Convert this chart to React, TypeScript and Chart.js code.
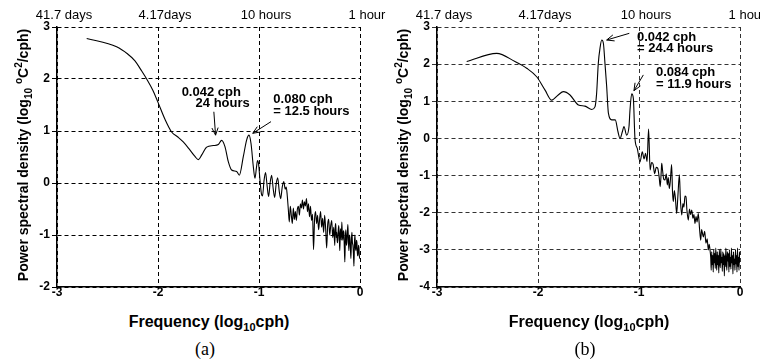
import React, { useEffect, useRef } from "react";
import { Chart, registerables } from "chart.js";
Chart.register(...registerables);

const FONT = '"Liberation Sans", Arial, sans-serif';

const xTickValues = [-3, -2, -1, 0];
const topTickLabels = ["41.7 days", "4.17days", "10 hours", "1 hour"];

// Panel (a)
const freqA = [
  -2.706, -2.41, -2.3, -2.228, -2.17, -2.112, -2.05, -2.0, -1.93, -1.865, -1.8, -1.75, -1.69, -1.634, -1.6,
  -1.567, -1.518, -1.452, -1.403, -1.37, -1.337, -1.304, -1.271, -1.221, -1.195, -1.155, -1.122, -1.099,
  -1.079, -1.056, -1.04, -1.025, -1.015, -1.005, -0.99, -0.975, -0.965, -0.95, -0.935, -0.92, -0.905, -0.89,
  -0.875, -0.86, -0.845, -0.83, -0.815, -0.8, -0.785, -0.77, -0.755, -0.74, -0.73, -0.72, -0.71, -0.7, -0.69,
  -0.68, -0.67, -0.66, -0.65, -0.64, -0.63, -0.62, -0.61, -0.6, -0.59, -0.58, -0.57, -0.56, -0.55, -0.54,
  -0.53, -0.52, -0.51, -0.5, -0.49, -0.48, -0.47, -0.46, -0.45, -0.44, -0.43, -0.42, -0.41, -0.4, -0.39,
  -0.38, -0.37, -0.36, -0.35, -0.34, -0.33, -0.32, -0.31, -0.3, -0.29, -0.28, -0.27, -0.26, -0.25, -0.245,
  -0.24, -0.235, -0.23, -0.225, -0.22, -0.215, -0.21, -0.205, -0.2, -0.195, -0.19, -0.185, -0.18, -0.175,
  -0.17, -0.165, -0.16, -0.155, -0.15, -0.145, -0.14, -0.135, -0.13, -0.125, -0.12, -0.115, -0.11, -0.105,
  -0.1, -0.095, -0.09, -0.085, -0.08, -0.075, -0.07, -0.065, -0.06, -0.055, -0.05, -0.045, -0.04, -0.035,
  -0.03, -0.025, -0.02, -0.015, -0.01, -0.005, 0,
];
const psdA = [
  2.78, 2.62, 2.48, 2.35, 2.18, 2.0, 1.78, 1.55, 1.22, 0.98, 0.88, 0.79, 0.65, 0.51, 0.45,
  0.54, 0.69, 0.72, 0.74, 0.82, 0.7, 0.41, 0.25, 0.22, 0.15, 0.51, 0.83, 0.92,
  0.76, 0.31, 0.09, 0.3, 0.43, 0.38, 0.05, -0.22, -0.25, 0.05, 0.2, -0.05, -0.26, 0.0,
  0.15, -0.1, -0.28, -0.02, 0.1, -0.15, -0.3, -0.08, 0.03, -0.12, -0.08, -0.25, -0.5, -0.75, -0.45,
  -0.62, -0.78, -0.48, -0.7, -0.55, -0.72, -0.5, -0.45, -0.62, -0.4, -0.48, -0.33, -0.5, -0.36, -0.44,
  -0.3, -0.55, -0.4, -0.65, -0.45, -0.72, -0.6, -1.28, -0.7, -0.55, -0.78, -0.62, -0.9, -0.7, -0.55,
  -0.85, -0.68, -0.95, -0.62, -0.88, -1.25, -0.8, -0.7, -1.0, -0.82, -0.72, -1.05, -0.85, -1.2, -0.85,
  -0.78, -1.05, -0.95, -1.15, -1.1, -0.9, -0.82, -1.05, -1.3, -0.95, -0.88, -1.1, -0.75, -1.0,
  -1.1, -0.92, -0.95, -1.25, -1.52, -1.05, -0.9, -1.2, -1.15, -0.95, -0.8, -1.1, -1.3, -1.0,
  -1.05, -1.25, -1.45, -1.1, -0.95, -1.15, -1.2, -1.35, -1.6, -1.15, -1.0, -1.25, -1.3, -1.1,
  -1.15, -1.4, -1.4, -1.2, -1.25, -1.45, -1.4,
];

// Panel (b)
const freqB = [
  -2.706, -2.409, -2.228, -2.112, -2.013, -1.93, -1.864, -1.8, -1.749, -1.683, -1.6, -1.535, -1.468, -1.436,
  -1.42, -1.403, -1.385, -1.369, -1.352, -1.337, -1.32, -1.303, -1.27, -1.235, -1.208, -1.188, -1.165,
  -1.149, -1.122, -1.099, -1.089, -1.072, -1.056, -1.04, -1.017, -0.99, -0.967, -0.95, -0.935, -0.92,
  -0.905, -0.89, -0.875, -0.86, -0.845, -0.83, -0.815, -0.8, -0.79, -0.78, -0.775, -0.767, -0.755, -0.743,
  -0.73, -0.72, -0.71, -0.7, -0.69, -0.677, -0.668, -0.66, -0.65, -0.64, -0.627, -0.615, -0.6, -0.59,
  -0.577, -0.565, -0.555, -0.545, -0.535, -0.525, -0.512, -0.5, -0.49, -0.478, -0.466, -0.456, -0.446,
  -0.435, -0.425, -0.413, -0.4, -0.389, -0.38, -0.37, -0.363, -0.35, -0.337, -0.325, -0.314, -0.305, -0.295,
  -0.29, -0.285, -0.28, -0.275, -0.27, -0.265, -0.26, -0.255, -0.25, -0.245, -0.24, -0.235, -0.23, -0.225,
  -0.22, -0.215, -0.21, -0.205, -0.2, -0.195, -0.19, -0.185, -0.18, -0.175, -0.17, -0.165, -0.16, -0.155,
  -0.15, -0.145, -0.14, -0.135, -0.13, -0.125, -0.12, -0.115, -0.11, -0.105, -0.1, -0.095, -0.09, -0.085,
  -0.08, -0.075, -0.07, -0.065, -0.06, -0.055, -0.05, -0.045, -0.04, -0.035, -0.03, -0.025, -0.02, -0.015,
  -0.01, -0.005, 0,
];
const psdB = [
  2.07, 2.29, 2.07, 1.89, 1.66, 1.3, 1.03, 1.17, 1.26, 1.17, 0.9, 0.87, 0.78, 0.85,
  1.2, 2.02, 2.45, 2.65, 2.55, 2.02, 1.4, 0.68, 0.5, 0.5, 0.18, 0.0, 0.18,
  0.32, 0.09, 0.32, 0.77, 1.2, 1.08, 0.0, -0.27, -0.63, -0.36, -0.55, -0.4, -0.62,
  0.25, -0.85, -0.65, -0.7, -0.95, -0.78, -0.8, -1.05, -1.3, -0.9, -0.67, -0.85, -1.1, -1.12,
  -0.95, -1.25, -1.05, -1.35, -1.15, -0.7, -1.45, -1.7, -1.4, -1.6, -2.02, -1.55, -0.98, -1.65,
  -2.06, -1.75, -1.85, -1.55, -1.57, -1.95, -2.2, -1.9, -2.05, -1.93, -2.15, -2.05, -2.29,
  -2.1, -2.25, -2.02, -2.45, -2.74, -2.45, -2.58, -2.65, -2.5, -2.82, -2.7, -3.0, -2.85, -3.05,
  -3.2, -3.55, -3.05, -3.4, -3.15, -3.6, -3.0, -3.35, -3.1, -3.5, -2.95, -3.3, -3.55, -3.05,
  -3.4, -3.15, -3.62, -3.0, -3.3, -3.48, -2.98, -3.35, -3.2, -3.58, -3.05, -3.4, -3.1, -3.7,
  -3.15, -3.45, -2.95, -3.35, -3.55, -3.05, -3.3, -3.1, -3.6, -3.0, -3.45, -3.2, -3.52, -2.95,
  -3.35, -3.15, -3.65, -3.05, -3.4, -3.25, -3.55, -3.0, -3.38, -3.15, -3.6, -2.95, -3.45, -3.2,
  -3.55, -3.05, -3.35,
];

// Annotations (data coordinates)
const notesA = [
  { x: -1.766, y: 1.74, text: "0.042 cph" },
  { x: -1.628, y: 1.53, text: "24 hours" },
  { x: -0.858, y: 1.6, text: "0.080 cph" },
  { x: -0.858, y: 1.385, text: "= 12.5 hours" },
];
const arrowsA = [
  { x1: -1.447, y1: 1.37, x2: -1.43, y2: 0.92 },
  { x1: -0.881, y1: 1.18, x2: -1.062, y2: 0.956 },
];
const notesB = [
  { x: -1.02, y: 2.73, text: "0.042 cph" },
  { x: -1.02, y: 2.41, text: "= 24.4 hours" },
  { x: -0.832, y: 1.775, text: "0.084 cph" },
  { x: -0.832, y: 1.465, text: "= 11.9 hours" },
];
const arrowsB = [
  { x1: -1.096, y1: 2.83, x2: -1.32, y2: 2.65 },
  { x1: -0.957, y1: 1.71, x2: -1.05, y2: 1.285 },
];

type Note = { x: number; y: number; text: string };
type Arrow = { x1: number; y1: number; x2: number; y2: number };

function makeAnnotPlugin(notes: Note[], arrows: Arrow[]) {
  return {
    id: "annot",
    afterDatasetsDraw(chart: any) {
      const ctx = chart.ctx;
      const xs = chart.scales.x;
      const ys = chart.scales.y;
      ctx.save();
      ctx.fillStyle = "#000";
      ctx.font = `bold 13px ${FONT}`;
      ctx.textAlign = "left";
      ctx.textBaseline = "middle";
      for (const n of notes) {
        ctx.fillText(n.text, xs.getPixelForValue(n.x), ys.getPixelForValue(n.y));
      }
      ctx.strokeStyle = "#000";
      ctx.lineWidth = 1;
      for (const a of arrows) {
        const x1 = xs.getPixelForValue(a.x1);
        const y1 = ys.getPixelForValue(a.y1);
        const x2 = xs.getPixelForValue(a.x2);
        const y2 = ys.getPixelForValue(a.y2);
        const ang = Math.atan2(y2 - y1, x2 - x1);
        const hl = 8;
        const spread = 0.4;
        ctx.beginPath();
        ctx.moveTo(x1, y1);
        ctx.lineTo(x2, y2);
        ctx.moveTo(x2 - hl * Math.cos(ang - spread), y2 - hl * Math.sin(ang - spread));
        ctx.lineTo(x2, y2);
        ctx.lineTo(x2 - hl * Math.cos(ang + spread), y2 - hl * Math.sin(ang + spread));
        ctx.stroke();
      }
      ctx.restore();
    },
  };
}

function Panel(props: {
  left: number;
  width: number;
  padRight: number;
  freq: number[];
  psd: number[];
  yMin: number;
  yMax: number;
  notes: Note[];
  arrows: Arrow[];
  gridColor: string;
}) {
  const ref = useRef<HTMLCanvasElement | null>(null);
  useEffect(() => {
    if (!ref.current) return;
    const data = props.freq.map((f, i) => ({ x: f, y: props.psd[i] }));
    const setTicks = (s: any) => {
      s.ticks = xTickValues.map((v) => ({ value: v }));
    };
    const chart = new Chart(ref.current, {
      type: "scatter",
      data: {
        datasets: [
          {
            data,
            showLine: true,
            borderColor: "#000",
            borderWidth: 1.1,
            pointRadius: 0,
            cubicInterpolationMode: "monotone",
            fill: false,
          } as any,
        ],
      },
      options: {
        animation: false,
        responsive: true,
        maintainAspectRatio: false,
        layout: { padding: { left: 0, right: props.padRight, top: 0, bottom: 0 } },
        plugins: { legend: { display: false }, tooltip: { enabled: false } },
        scales: {
          x: {
            type: "linear",
            position: "bottom",
            min: -3,
            max: 0,
            afterBuildTicks: setTicks,
            ticks: {
              font: { family: FONT, weight: "bold", size: 12 },
              color: "#000",
              padding: -2,
              maxRotation: 0,
              autoSkip: false,
            },
            grid: { color: props.gridColor, lineWidth: 1, drawTicks: false },
            border: { display: true, color: "#000", width: 1.5, dash: [4, 3] },
            afterFit: (s: any) => {
              s.height = 13;
              s.paddingLeft = 0;
              s.paddingRight = 0;
            },
          },
          x2: {
            type: "linear",
            position: "top",
            min: -3,
            max: 0,
            afterBuildTicks: setTicks,
            ticks: {
              callback: (_v: any, i: number) => topTickLabels[i],
              font: { family: FONT, size: 13 },
              color: "#000",
              padding: 4,
              labelOffset: 7,
              maxRotation: 0,
              autoSkip: false,
            },
            grid: { display: false, drawTicks: false },
            border: { display: false },
            afterFit: (s: any) => {
              s.height = 27;
              s.paddingLeft = 0;
              s.paddingRight = 0;
            },
          },
          y: {
            type: "linear",
            min: props.yMin,
            max: props.yMax,
            ticks: {
              stepSize: 1,
              font: { family: FONT, weight: "bold", size: 12 },
              color: "#000",
              padding: 2,
            },
            grid: { color: props.gridColor, lineWidth: 1, tickLength: 5, drawTicks: true },
            border: { display: true, color: "#000", width: 1.5, dash: [4, 3] },
            afterFit: (s: any) => {
              s.width = 57;
              s.paddingTop = 0;
              s.paddingBottom = 0;
            },
          },
        },
      } as any,
      plugins: [makeAnnotPlugin(props.notes, props.arrows)],
    });
    return () => chart.destroy();
  }, []);
  return (
    <div style={{ position: "absolute", left: props.left, top: 0, width: props.width, height: 300 }}>
      <canvas ref={ref} />
    </div>
  );
}

const subStyle: React.CSSProperties = { fontSize: 10, verticalAlign: "-4px", lineHeight: 0 };
const supStyle: React.CSSProperties = { fontSize: 10, verticalAlign: "6px", lineHeight: 0 };

function YTitle({ cx, cy }: { cx: number; cy: number }) {
  return (
    <div
      style={{
        position: "absolute",
        left: cx - 150,
        top: cy - 10,
        width: 300,
        height: 20,
        lineHeight: "20px",
        textAlign: "center",
        transform: "rotate(-90deg)",
        fontWeight: "bold",
        fontSize: 14,
        whiteSpace: "nowrap",
        fontFamily: FONT,
        color: "#000",
      }}
    >
      Power spectral density (log<span style={subStyle}>10</span> <span style={supStyle}>o</span>C
      <span style={supStyle}>2</span>/cph)
    </div>
  );
}

function XTitle({ cx, cy }: { cx: number; cy: number }) {
  return (
    <div
      style={{
        position: "absolute",
        left: cx - 120,
        top: cy - 10,
        width: 240,
        height: 20,
        lineHeight: "20px",
        textAlign: "center",
        fontWeight: "bold",
        fontSize: 16,
        whiteSpace: "nowrap",
        fontFamily: FONT,
        color: "#000",
      }}
    >
      Frequency (log<span style={{ fontSize: 11, verticalAlign: "-4px", lineHeight: 0 }}>10</span>cph)
    </div>
  );
}

function Caption({ cx, cy, text }: { cx: number; cy: number; text: string }) {
  return (
    <div
      style={{
        position: "absolute",
        left: cx - 30,
        top: cy - 11,
        width: 60,
        height: 22,
        lineHeight: "22px",
        textAlign: "center",
        fontSize: 18,
        fontFamily: '"Liberation Serif", "Times New Roman", serif',
        color: "#000",
      }}
    >
      {text}
    </div>
  );
}

export default function App() {
  return (
    <div
      style={{
        position: "absolute",
        left: 0,
        top: 0,
        width: 760,
        height: 361,
        background: "#fff",
        overflow: "hidden",
      }}
    >
      <Panel left={0} width={400} padRight={40} freq={freqA} psd={psdA} yMin={-2} yMax={3} notes={notesA} arrows={arrowsA} gridColor="#000" />
      <Panel left={380} width={380} padRight={20} freq={freqB} psd={psdB} yMin={-4} yMax={3} notes={notesB} arrows={arrowsB} gridColor="#333" />
      <YTitle cx={23} cy={155} />
      <YTitle cx={403} cy={155} />
      <XTitle cx={209} cy={322} />
      <XTitle cx={589} cy={322} />
      <Caption cx={205} cy={349} text="(a)" />
      <Caption cx={585} cy={349} text="(b)" />
    </div>
  );
}
